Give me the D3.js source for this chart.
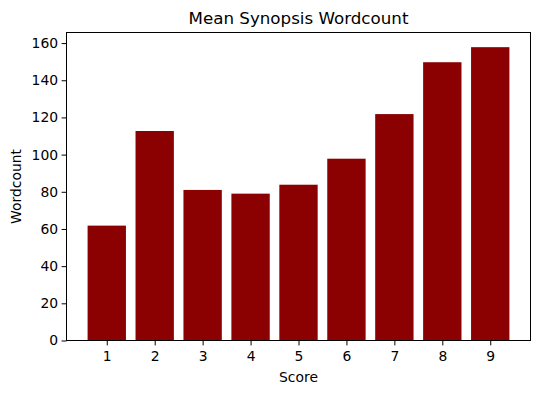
<!DOCTYPE html>
<html>
<head>
<meta charset="utf-8">
<script src="https://cdn.jsdelivr.net/npm/d3@7"></script>
<style>
  body { margin: 0; background: #fff; }
  svg { font-family: "DejaVu Sans", sans-serif; }
</style>
</head>
<body>
<svg width="540" height="393"></svg>
<script>
var scores = [1, 2, 3, 4, 5, 6, 7, 8, 9];
var wordcounts = [61.8, 112.7, 81.0, 79.0, 83.8, 97.8, 121.8, 149.7, 157.8];
var yTicks = [0, 20, 40, 60, 80, 100, 120, 140, 160];

var svg = d3.select("svg"),
    plotLeft = 66.5, plotRight = 530.5, plotTop = 32.5, plotBottom = 340.5;

// matplotlib-like limits: bar width 0.8, 5% margins
var x = d3.scaleLinear()
    .domain([0.16, 9.84])
    .range([plotLeft, plotRight]);

var y = d3.scaleLinear()
    .domain([0, d3.max(wordcounts) * 1.05])
    .range([plotBottom, plotTop]);

svg.append("g")
    .selectAll("rect")
    .data(scores)
    .enter().append("rect")
    .attr("x", function(d) { return x(d - 0.4); })
    .attr("width", function(d) { return x(d + 0.4) - x(d - 0.4); })
    .attr("y", function(d, i) { return y(wordcounts[i]); })
    .attr("height", function(d, i) { return y(0) - y(wordcounts[i]); })
    .attr("fill", "#8b0000");

var xAxis = svg.append("g")
    .attr("transform", "translate(0," + plotBottom + ")")
    .call(d3.axisBottom(x).tickValues(scores).tickSize(4.9).tickPadding(5.5).tickFormat(d3.format("d")));

var yAxis = svg.append("g")
    .attr("transform", "translate(" + plotLeft + ",0)")
    .call(d3.axisLeft(y).tickValues(yTicks).tickSize(4.9).tickPadding(3.5));

[xAxis, yAxis].forEach(function(g) {
    g.select(".domain").remove();
    g.selectAll("text").attr("font-size", 13.9).attr("fill", "#000").attr("font-family", "DejaVu Sans");
    g.selectAll("line").attr("stroke", "#000").attr("stroke-width", 1);
});

// frame
svg.append("rect")
    .attr("x", plotLeft).attr("y", plotTop)
    .attr("width", plotRight - plotLeft).attr("height", plotBottom - plotTop)
    .attr("fill", "none").attr("stroke", "#000").attr("stroke-width", 1);

svg.append("text")
    .attr("x", (plotLeft + plotRight) / 2).attr("y", 24)
    .attr("text-anchor", "middle")
    .attr("font-size", 16.7)
    .text("Mean Synopsis Wordcount");

svg.append("text")
    .attr("x", (plotLeft + plotRight) / 2).attr("y", 382)
    .attr("text-anchor", "middle")
    .attr("font-size", 13.9)
    .text("Score");

svg.append("text")
    .attr("transform", "translate(21," + ((plotTop + plotBottom) / 2) + ")rotate(-90)")
    .attr("text-anchor", "middle")
    .attr("font-size", 13.9)
    .text("Wordcount");
</script>
</body>
</html>
